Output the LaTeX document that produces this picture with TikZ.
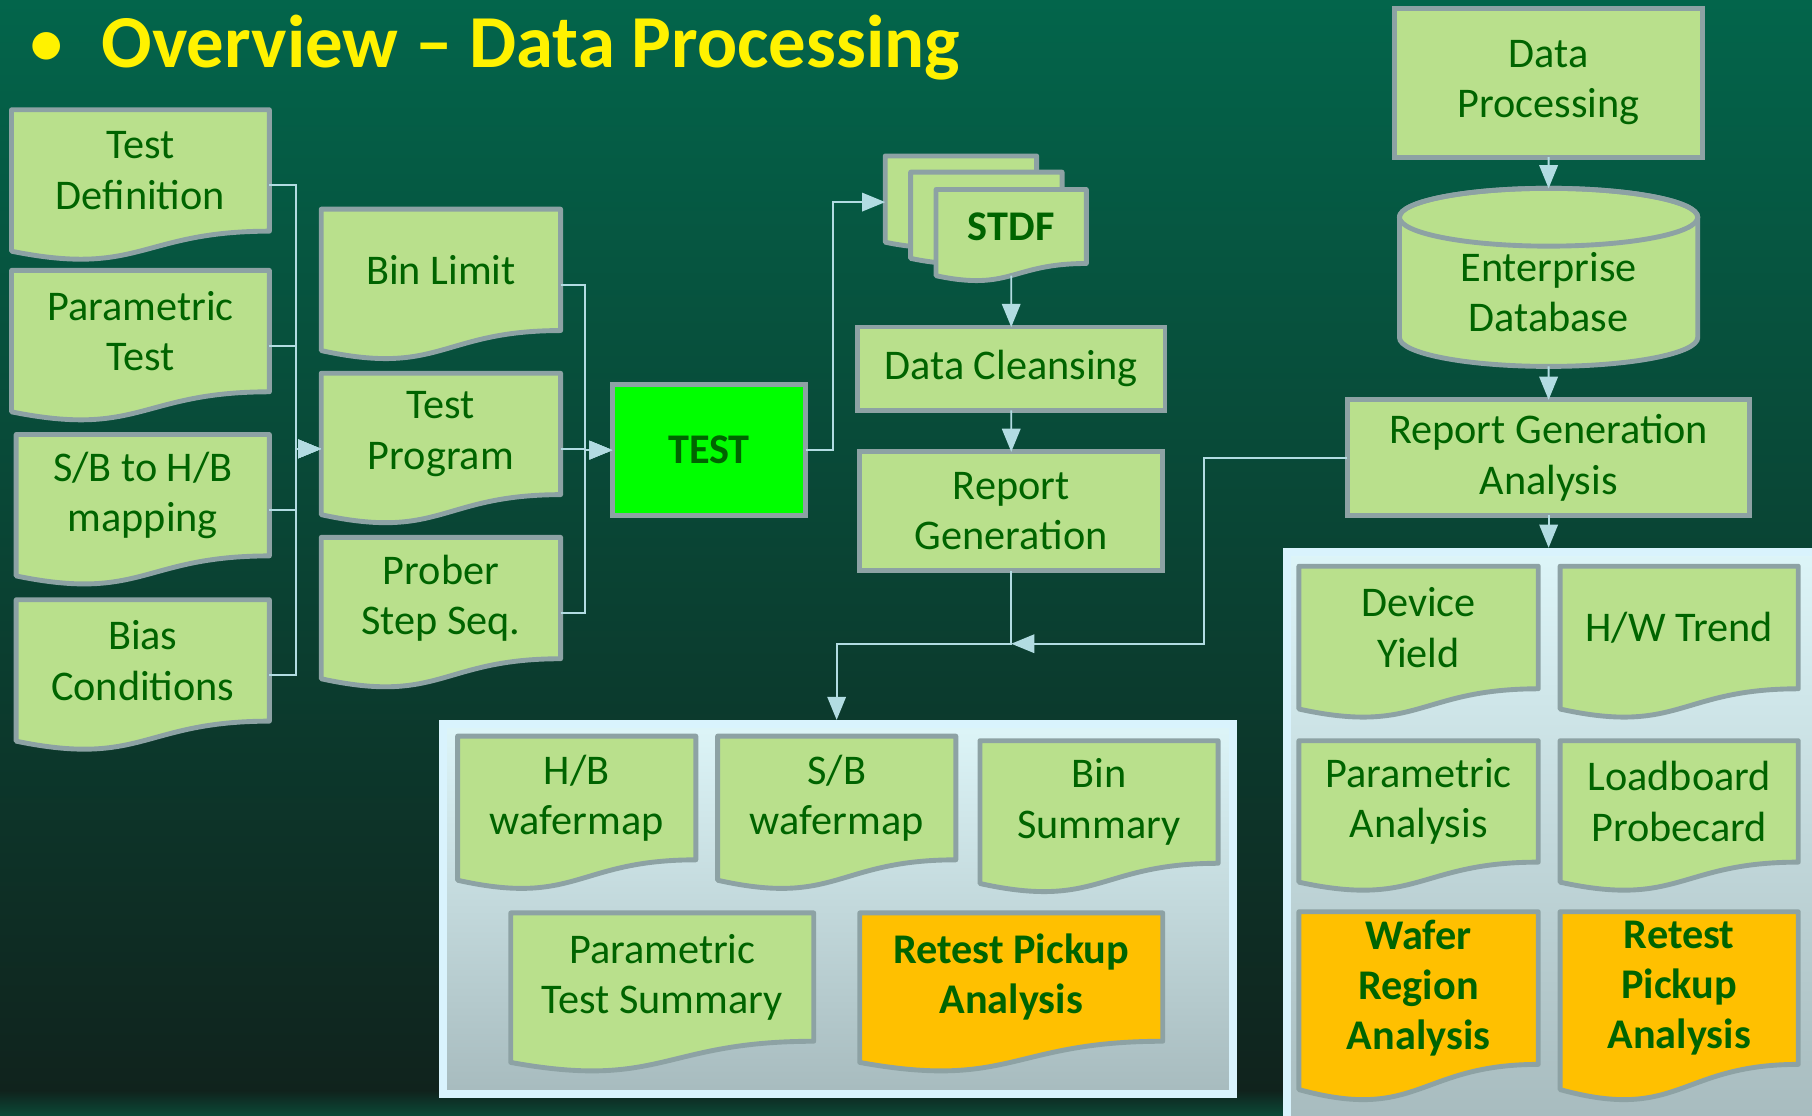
\documentclass[tikz,border=0pt]{standalone}
\usepackage{fontspec}
\setmainfont{Carlito}
\usetikzlibrary{arrows.meta,calc}

\definecolor{bgtop}{HTML}{03654B}
\definecolor{bgmid}{HTML}{014B39}
\definecolor{bgbot}{HTML}{10231D}
\definecolor{bgglow}{HTML}{0A4837}
\definecolor{leaf}{HTML}{B9E08C}
\definecolor{edge}{HTML}{8DA2A4}
\definecolor{ink}{HTML}{006400}
\definecolor{amber}{HTML}{FFC000}
\definecolor{lime}{HTML}{00FF00}
\definecolor{link}{HTML}{B2DCE2}
\definecolor{panetop}{HTML}{DDF5F8}
\definecolor{panebot}{HTML}{A7BBBE}

\pgfdeclarelayer{bg}
\pgfdeclarelayer{docs}
\pgfsetlayers{bg,docs,main}

\begin{document}
\begin{tikzpicture}[x=0.01cm, y=-0.01cm]
        \tikzstyle{every node} = [rectangle, inner sep=0pt, outer sep=0pt, text=ink, align=center, font=\fontsize{10.4}{12.4}\selectfont]
        \tikzstyle{docbox} = [anchor=north west]
        \tikzstyle{rectbox} = [anchor=north west, draw=edge, line width=1.2pt, fill=leaf]
        \tikzstyle{panelbox} = [anchor=north west, outer sep=1pt, draw=white!85!cyan, line width=2pt, top color=panetop, bottom color=panebot]
        \tikzstyle{heavy} = [font=\fontsize{10.4}{12.4}\selectfont\bfseries]
        \tikzstyle{conn} = [draw=link, line width=0.45pt, -{Triangle[length=0.2cm, width=0.16cm, fill=link]}]
        \useasboundingbox (0,0) rectangle (1568,965);

        % background and the two panels
        \begin{pgfonlayer}{bg}
            \shade[top color=bgtop, middle color=bgmid, bottom color=bgbot] (0,0) rectangle (1568,945);
            \shade[top color=bgbot, bottom color=bgglow] (0,944) rectangle (1568,965);
            \node[panelbox, minimum width=6.83cm, minimum height=3.2cm] (pan1) at (380,623) {};
            \node[panelbox, minimum width=4.6cm, minimum height=4.95cm] (pan2) at (1110,474) {};
        \end{pgfonlayer}

        % title
        \node[text=yellow, font=\fontsize{16}{19}\selectfont\bfseries] (bullet) at (40,42) {•};
        \node[anchor=base west, text=yellow, font=\fontsize{18.4}{21}\selectfont\bfseries] (title) at (88,58) {Overview – Data Processing};

        % inputs
        \node[docbox, minimum width=2.23cm, minimum height=1.05cm] (tdef) at (10,95) {Test\\Definition};
        \node[docbox, minimum width=2.23cm, minimum height=1.05cm] (ptest) at (10,234) {Parametric\\Test};
        \node[docbox, minimum width=2.19cm, minimum height=1.05cm] (sbmap) at (14,376) {S/B to H/B\\mapping};
        \node[docbox, minimum width=2.19cm, minimum height=1.05cm] (bias) at (14,519) {Bias\\Conditions};
        \node[docbox, minimum width=2.07cm, minimum height=1.05cm] (binlim) at (278,181) {Bin Limit};
        \node[docbox, minimum width=2.07cm, minimum height=1.05cm] (tprog) at (278,323) {Test\\Program};
        \node[docbox, minimum width=2.07cm, minimum height=1.05cm] (prober) at (278,465) {Prober\\Step Seq.};
        \node[rectbox, fill=lime, heavy, minimum width=1.67cm, minimum height=1.13cm] (test) at (530,333) {TEST};

        % stdf and reports
        \node[docbox, minimum width=1.31cm, minimum height=0.64cm] (stdfa) at (766,135) {};
        \node[docbox, minimum width=1.31cm, minimum height=0.64cm] (stdfb) at (788,149) {};
        \node[docbox, heavy, minimum width=1.30cm, minimum height=0.64cm] (stdf) at (810,164) {STDF};
        \node[rectbox, minimum width=2.66cm, minimum height=0.72cm] (dclean) at (742,283) {Data Cleansing};
        \node[rectbox, minimum width=2.62cm, minimum height=1.03cm] (rgen) at (744,391) {Report\\Generation};
        \node[docbox, minimum width=2.06cm, minimum height=1.07cm] (hbwm) at (396,637) {H/B\\wafermap};
        \node[docbox, minimum width=2.06cm, minimum height=1.07cm] (sbwm) at (621,637) {S/B\\wafermap};
        \node[docbox, minimum width=2.06cm, minimum height=1.06cm] (binsum) at (848,641) {Bin\\Summary};
        \node[docbox, minimum width=2.62cm, minimum height=1.11cm] (ptsum) at (442,790) {Parametric\\Test Summary};
        \node[docbox, heavy, minimum width=2.62cm, minimum height=1.11cm] (rtpick) at (744,790) {Retest Pickup\\Analysis};

        % enterprise side
        \node[rectbox, minimum width=2.66cm, minimum height=1.29cm] (dproc) at (1207,7) {Data\\Processing};
        \node[docbox, minimum width=2.58cm, minimum height=1.29cm] (edb) at (1211,188) {Enterprise\\Database};
        \node[rectbox, minimum width=3.48cm, minimum height=1.00cm] (rga) at (1166,346) {Report Generation\\Analysis};
        \node[docbox, minimum width=2.07cm, minimum height=1.06cm] (dyield) at (1124,490) {Device\\Yield};
        \node[docbox, minimum width=2.06cm, minimum height=1.06cm] (hwtrend) at (1350,490) {H/W Trend};
        \node[docbox, minimum width=2.07cm, minimum height=1.05cm] (panal) at (1124,641) {Parametric\\Analysis};
        \node[docbox, minimum width=2.06cm, minimum height=1.05cm] (lbpc) at (1350,641) {Loadboard\\Probecard};
        \node[docbox, heavy, minimum width=2.07cm, minimum height=1.32cm] (wafreg) at (1124,789) {Wafer\\Region\\Analysis};
        \node[docbox, heavy, minimum width=2.06cm, minimum height=1.32cm] (rtpick2) at (1350,789) {Retest\\Pickup\\Analysis};

        % document outlines behind the texts
        \begin{pgfonlayer}{docs}
            \foreach \n/\c in {tdef/leaf, ptest/leaf, sbmap/leaf, bias/leaf, binlim/leaf, tprog/leaf, prober/leaf,
                               stdfa/leaf, stdfb/leaf, stdf/leaf, hbwm/leaf, sbwm/leaf, binsum/leaf, ptsum/leaf, rtpick/amber,
                               dyield/leaf, hwtrend/leaf, panal/leaf, lbpc/leaf, wafreg/amber, rtpick2/amber} {
                \filldraw[fill=\c, draw=edge, line width=1.2pt, line join=round]
                    (\n.north west) -- (\n.north east) -- (\n.south east)
                    .. controls (\n.south) and ($(\n.north)!1.38!(\n.south)$) .. ($(\n.north west)!1.165!(\n.south west)$) -- cycle;
                \coordinate (\n-l) at ($(\n.north west)!0.623!(\n.south west)$);
                \coordinate (\n-r) at ($(\n.north east)!0.623!(\n.south east)$);
                \coordinate (\n-b) at ($(\n.north)!1.163!(\n.south)$);
            }
            \filldraw[fill=leaf, draw=edge, line width=1.2pt]
                (edb.north west) -- ($(edb.south west)+(0,-25)$) arc[start angle=180, end angle=360, x radius=1.29cm, y radius=0.25cm]
                -- (edb.north east) arc[start angle=0, end angle=180, x radius=1.29cm, y radius=0.25cm] -- cycle;
            \draw[edge, line width=1.2pt] (edb.north) ellipse [x radius=1.29cm, y radius=0.25cm];
        \end{pgfonlayer}
        \coordinate (edbtop) at ($(edb.north)+(0,-25)$);
        \coordinate (jn) at ($(rgen.south)+(0,63)$);
        \coordinate (drop) at (724,623);

        % connectors
        \foreach \n in {tdef, ptest, sbmap, bias}
            \draw[conn] (\n-r) -| ($(tprog-l)+(-22,0)$) -- (tprog-l);
        \foreach \n in {binlim, tprog, prober}
            \draw[conn] (\n-r) -| ($(test.west)+(-24,0)$) -- (test.west);
        \draw[conn] (test.east) -- ++(24,0) |- (stdfa-l);
        \draw[conn] (stdf-b) -- (dclean.north);
        \draw[conn] (dclean.south) -- (rgen.north);
        \draw[conn] (rgen.south) -- (jn) -| (drop);
        \draw[conn] (rga.west) -- ++(-124,0) |- (jn);
        \draw[conn] (dproc.south) -- (edbtop);
        \draw[conn] (edb.south) -- (rga.north);
        \draw[conn] (rga.south) -- (rga.south |- pan2.north);
\end{tikzpicture}
\end{document}
